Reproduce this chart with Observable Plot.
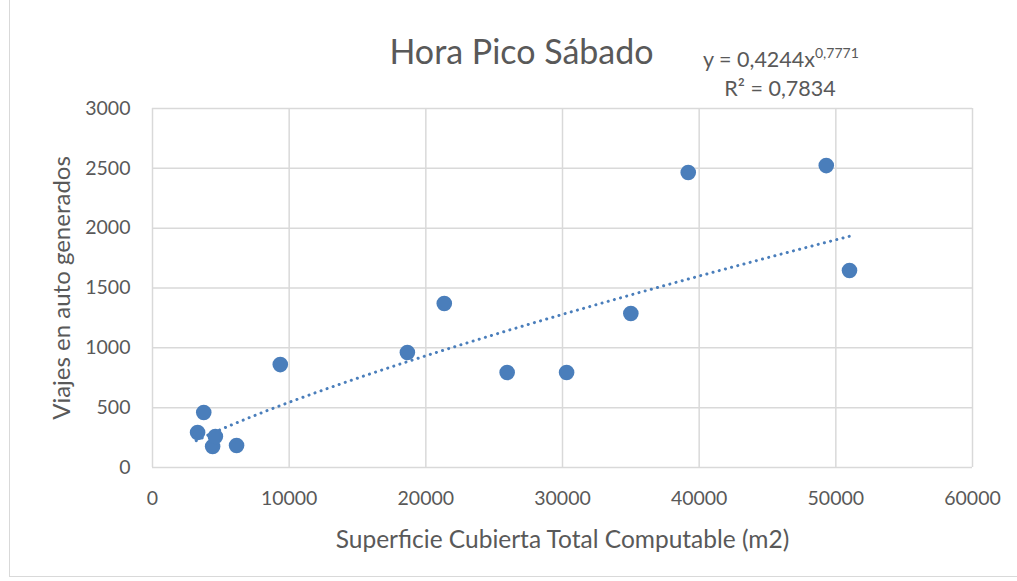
<!DOCTYPE html>
<html>
<head>
<meta charset="utf-8">
<script src="https://cdn.jsdelivr.net/npm/d3@7"></script>
<script src="https://cdn.jsdelivr.net/npm/@observablehq/plot@0.6"></script>
<style>
  html, body { margin: 0; padding: 0; background: #fff; }
  #wrap { position: relative; width: 1017px; height: 581px; overflow: hidden; }
  #border { position: absolute; left: 9px; top: -2px; width: 1030px; height: 579px; border: 1px solid #d9d9d9; box-sizing: border-box; }
  svg { font-family: Lato, "Open Sans", sans-serif; }
</style>
</head>
<body>
<div id="wrap"><div id="border"></div></div>
<script>
// Data
const superficie = [3300, 3750, 4400, 4600, 6150, 9350, 18650, 21350, 25950, 30300, 35000, 39200, 49300, 51000];
const viajes     = [292, 459, 175, 259, 184, 860, 961, 1370, 794, 794, 1287, 2465, 2523, 1646];
const xTicks = [0, 10000, 20000, 30000, 40000, 50000, 60000];
const yTicks = [0, 500, 1000, 1500, 2000, 2500, 3000];
const titleText = "Hora Pico Sábado";
const xLabel = "Superficie Cubierta Total Computable (m2)";
const yLabel = "Viajes en auto generados";
// Trendline (power) as stated on the chart
const coefA = 0.4244, coefB = 0.7771, r2Text = "0,7834";
const trendStart = 3200, trendEnd = 51000;

const points = superficie.map((x, i) => ({x, y: viajes[i]}));
const trend = d3.range(0, 101).map(i => {
  const x = trendStart + (trendEnd - trendStart) * i / 100;
  return {x, y: coefA * Math.pow(x, coefB)};
});

const blue = "#4a7ebb";
const grey = "#595959";
const chart = Plot.plot({
  width: 1017,
  height: 581,
  marginLeft: 152,
  marginRight: 45,
  marginTop: 108,
  marginBottom: 114,
  style: {fontFamily: "Lato, 'Open Sans', sans-serif", background: "transparent"},
  x: {domain: [0, 60000]},
  y: {domain: [0, 3000]},
  marks: [
    Plot.gridX(xTicks, {stroke: "#d9d9d9", strokeOpacity: 1, strokeWidth: 1.5}),
    Plot.gridY(yTicks, {stroke: "#d9d9d9", strokeOpacity: 1, strokeWidth: 1.5}),
    Plot.axisX(xTicks, {tickSize: 0, tickPadding: 24, fontSize: 19.5, color: grey, label: null, tickFormat: d => String(d)}),
    Plot.axisY(yTicks, {tickSize: 0, tickPadding: 22, fontSize: 19.5, color: grey, label: null, tickFormat: d => String(d)}),
    Plot.line(trend, {x: "x", y: "y", stroke: blue, strokeWidth: 3, strokeDasharray: "0.1 6.3", strokeLinecap: "round"}),
    Plot.dot(points, {x: "x", y: "y", r: 7.8, fill: blue, stroke: "none"}),
    Plot.text([titleText], {frameAnchor: "top", textAnchor: "middle", lineAnchor: "middle", dx: -41, dy: -55, fontSize: 34, fill: grey}),
    Plot.text([xLabel], {frameAnchor: "bottom", textAnchor: "middle", lineAnchor: "middle", dy: 73, fontSize: 24.5, fill: grey}),
    Plot.text([yLabel], {frameAnchor: "left", textAnchor: "middle", lineAnchor: "middle", dx: -90, rotate: -90, fontSize: 24, fill: grey})
  ]
});
document.getElementById("wrap").appendChild(chart);

// Equation label with superscript
const svg = d3.select(chart);
const eq = svg.append("text")
  .attr("x", 703).attr("y", 67)
  .attr("text-anchor", "start")
  .attr("font-size", 21.5).attr("fill", grey)
  .attr("font-family", "Lato, 'Open Sans', sans-serif");
eq.append("tspan").text("y = " + String(coefA).replace(".", ",") + "x");
eq.append("tspan").attr("dy", -9).attr("font-size", 14).text(String(coefB).replace(".", ","));
svg.append("text")
  .attr("x", 780).attr("y", 96)
  .attr("text-anchor", "middle")
  .attr("font-size", 21.5).attr("fill", grey)
  .attr("font-family", "Lato, 'Open Sans', sans-serif")
  .text("R² = " + r2Text);
chart.style.position = "absolute";
chart.style.left = "0"; chart.style.top = "0";
</script>
</body>
</html>
